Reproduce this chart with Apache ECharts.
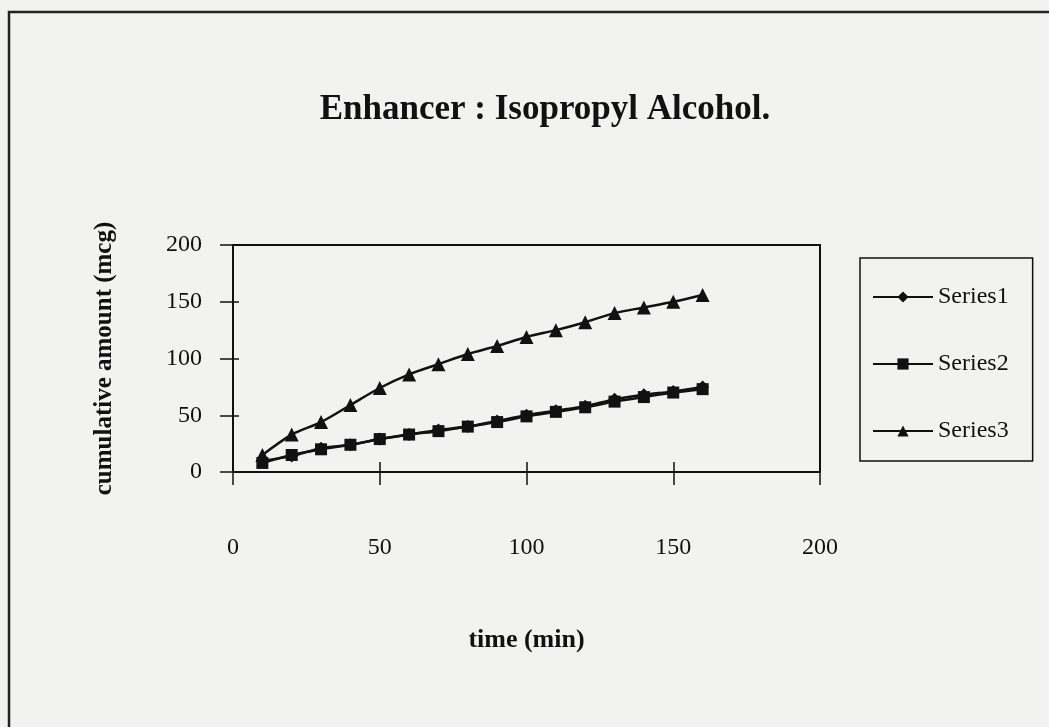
<!DOCTYPE html>
<html>
<head>
<meta charset="utf-8">
<script src="https://cdn.jsdelivr.net/npm/echarts@6/dist/echarts.min.js"></script>
<style>
  html, body { margin: 0; padding: 0; background: #f2f2f1; }
  #chart { width: 1049px; height: 727px; }
</style>
</head>
<body>
<div id="chart"></div>
<script>
const times = [10, 20, 30, 40, 50, 60, 70, 80, 90, 100, 110, 120, 130, 140, 150, 160];
const series1 = [10, 14, 21, 24, 29, 33, 37, 40, 45, 50, 54, 58, 64, 68, 71, 75];
const series2 = [8, 15, 20, 24, 29, 33, 36, 40, 44, 49, 53, 57, 62, 66, 70, 73];
const series3 = [15, 33, 44, 59, 74, 86, 95, 104, 111, 119, 125, 132, 140, 145, 150, 156];

const font = 'Liberation Serif';
const chart = echarts.init(document.getElementById('chart'));

function pairs(vals) {
    return times.map((t, i) => [t, vals[i]]);
}

function lineSeries(name, vals, symbol, size) {
    return {
        name: name,
        type: 'line',
        data: pairs(vals),
        smooth: 0.3,
        symbol: symbol,
        symbolSize: size,
        showSymbol: true,
        itemStyle: { color: '#111' },
        lineStyle: { color: '#111', width: 2.5 }
    };
}

chart.setOption({
    backgroundColor: '#f2f2f1',
    animation: false,
    title: {
        text: 'Enhancer : Isopropyl Alcohol.',
        left: 540,
        textAlign: 'center',
        top: 87,
        textStyle: { fontFamily: font, fontSize: 35, fontWeight: 'bold', color: '#111' }
    },
    legend: {
        orient: 'vertical',
        left: 860,
        top: 258,
        padding: [27, 24, 18, 12],
        itemGap: 43,
        itemWidth: 60,
        itemHeight: 14,
        borderColor: '#111',
        borderWidth: 1.5,
        textStyle: { fontFamily: font, fontSize: 24, color: '#111' },
        data: ['Series1', 'Series2', 'Series3']
    },
    grid: {
        left: 233, top: 245, right: 229, bottom: 255,
        show: true, borderColor: '#111', borderWidth: 2,
        backgroundColor: 'transparent'
    },
    xAxis: [{
        type: 'value', min: 0, max: 200, interval: 50,
        name: 'time (min)', nameLocation: 'middle', nameGap: 155,
        nameTextStyle: { fontFamily: font, fontSize: 26, fontWeight: 'bold', color: '#111' },
        axisLine: { lineStyle: { color: '#111', width: 2 } },
        axisTick: { length: 13, lineStyle: { color: '#111', width: 1.5 } },
        axisLabel: { margin: 64, fontFamily: font, fontSize: 24, color: '#111' },
        splitLine: { show: false }
    }, {
        type: 'value', min: 0, max: 200, interval: 50, position: 'bottom',
        axisLine: { show: false },
        axisTick: { inside: true, length: 10, lineStyle: { color: '#111', width: 1.5 } },
        axisLabel: { show: false },
        splitLine: { show: false }
    }],
    yAxis: [{
        type: 'value', min: 0, max: 200, interval: 50,
        name: 'cumulative amount (mcg)', nameLocation: 'middle', nameGap: 116,
        nameTextStyle: { fontFamily: font, fontSize: 25, fontWeight: 'bold', color: '#111' },
        axisLine: { show: true, lineStyle: { color: '#111', width: 2 } },
        axisTick: { show: true, length: 13, lineStyle: { color: '#111', width: 1.5 } },
        axisLabel: { margin: 31, fontFamily: font, fontSize: 24, color: '#111' },
        splitLine: { show: false }
    }, {
        type: 'value', min: 0, max: 200, interval: 50, position: 'left',
        axisLine: { show: false },
        axisTick: { show: true, inside: true, length: 6, lineStyle: { color: '#111', width: 1.5 } },
        axisLabel: { show: false },
        splitLine: { show: false }
    }],
    graphic: [{
        type: 'polyline',
        shape: { points: [[9, 727], [9, 12], [1049, 12]] },
        style: { stroke: '#222', lineWidth: 2.5, fill: null }
    }],
    series: [
        lineSeries('Series1', series1, 'diamond', 13),
        lineSeries('Series2', series2, 'rect', 12),
        lineSeries('Series3', series3, 'triangle', 14)
    ]
});
</script>
</body>
</html>
